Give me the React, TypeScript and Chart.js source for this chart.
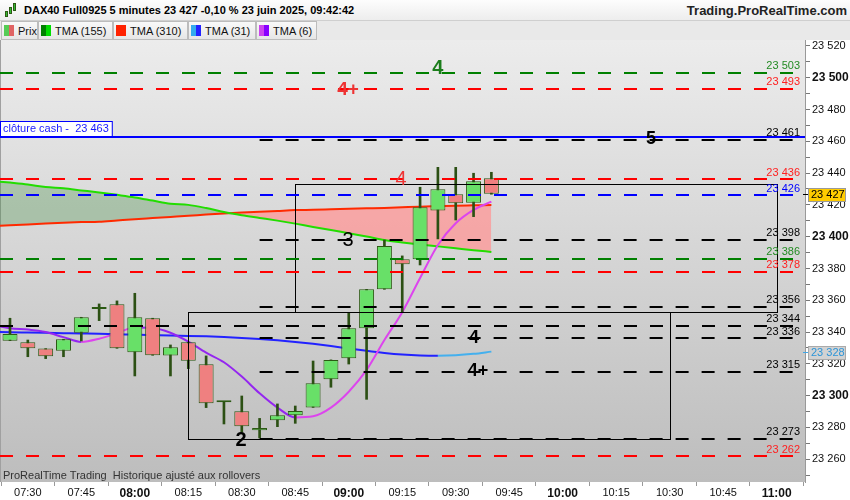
import React, { useEffect, useRef } from 'react';
import { Chart, registerables } from 'chart.js';
Chart.register(...registerables);

const FONT = 'Arial, "Liberation Sans", sans-serif';

// Candles: 5-minute bars, index 0 = 07:25
const startMinutes = 7 * 60 + 25;
const candleOpen = [23334.6, 23333.6, 23329.6, 23328.3, 23339.6, 23354.5, 23357.5, 23327.3, 23348.7, 23325.2, 23333.6, 23319.7, 23295.8, 23290.2, 23278.2, 23284.5, 23287.7, 23292.6, 23310.3, 23323.5, 23342.4, 23366.9, 23385.8, 23385.8, 23416.4, 23426.7, 23421.4, 23436.7];
const candleHigh = [23348.7, 23335.0, 23329.6, 23335.5, 23349.3, 23357.7, 23359.6, 23364.4, 23348.7, 23331.9, 23333.6, 23325.0, 23295.8, 23299.8, 23285.7, 23294.8, 23293.5, 23321.8, 23322.5, 23352.2, 23366.9, 23397.9, 23387.9, 23431.1, 23443.6, 23443.6, 23439.9, 23440.5];
const candleLow = [23334.6, 23324.5, 23323.3, 23324.5, 23334.4, 23347.2, 23329.8, 23312.4, 23325.4, 23312.4, 23317.0, 23292.5, 23282.2, 23277.0, 23273.4, 23280.5, 23282.6, 23292.6, 23305.3, 23319.9, 23297.7, 23366.9, 23352.3, 23382.2, 23398.6, 23410.5, 23412.6, 23426.7];
const candleClose = [23338.8, 23329.8, 23324.8, 23335.5, 23349.3, 23354.5, 23329.8, 23349.3, 23325.4, 23330.4, 23322.0, 23295.2, 23295.8, 23280.8, 23279.7, 23287.7, 23290.4, 23307.8, 23322.5, 23342.4, 23366.9, 23394.2, 23382.6, 23418.5, 23429.8, 23421.0, 23434.8, 23427.0];

// Moving averages (index -1 .. 27)
const maIndex = [-1, 0, 1, 2, 3, 4, 5, 6, 7, 8, 9, 10, 11, 12, 13, 14, 15, 16, 17, 18, 19, 20, 21, 22, 23, 24, 25, 26, 27];
const tma155 = [23435.1, 23434.0, 23432.8, 23431.2, 23430.4, 23429.1, 23427.8, 23426.3, 23424.7, 23422.7, 23420.7, 23420.0, 23418.0, 23415.5, 23413.5, 23411.8, 23410.1, 23408.2, 23406.1, 23404.2, 23402.1, 23400.1, 23397.9, 23396.4, 23395.1, 23393.9, 23392.7, 23391.5, 23390.4];
const tma310 = [23406.7, 23407.2, 23407.7, 23408.3, 23408.8, 23409.2, 23409.4, 23410.2, 23411.0, 23411.7, 23412.4, 23413.1, 23413.9, 23414.6, 23415.2, 23415.7, 23416.2, 23416.7, 23416.9, 23417.2, 23417.5, 23417.8, 23418.1, 23418.5, 23418.9, 23419.2, 23419.5, 23419.7, 23419.9];
const tma31 = [23340.2, 23339.9, 23339.7, 23339.5, 23339.3, 23339.1, 23338.9, 23338.6, 23338.4, 23338.1, 23337.8, 23337.6, 23337.3, 23336.9, 23336.3, 23335.6, 23334.8, 23333.8, 23332.6, 23331.2, 23329.7, 23328.2, 23326.9, 23325.9, 23325.3, 23325.1, 23325.4, 23326.3, 23327.7];
const tma6 = [23344.5, 23342.4, 23341.6, 23340.0, 23336.8, 23333.8, 23335.8, 23339.3, 23342.8, 23342.6, 23339.6, 23334.0, 23327.0, 23321.0, 23312.0, 23301.5, 23292.5, 23286.3, 23287.0, 23292.5, 23302.5, 23316.2, 23335.0, 23352.5, 23374.0, 23394.8, 23408.4, 23416.8, 23422.0];

// Axis ticks
const xTickIdx = [1, 4, 7, 10, 13, 16, 19, 22, 25, 28, 31, 34, 37, 40, 43];
const yTicks = [23250, 23260, 23270, 23280, 23290, 23300, 23310, 23320, 23330, 23340, 23350, 23360, 23370, 23380, 23390, 23400, 23410, 23420, 23430, 23440, 23450, 23460, 23470, 23480, 23490, 23500, 23510, 23520];

// Horizontal levels
const levelValues = [23503, 23493, 23463, 23461, 23436, 23426, 23398, 23386, 23378, 23356, 23344, 23336, 23315, 23273, 23262];
const levelColors = ['#008000', '#ff0000', '#0000ff', '#000000', '#ff0000', '#0000ff', '#000000', '#008000', '#ff0000', '#000000', '#000000', '#000000', '#000000', '#000000', '#ff0000'];
const levelLabelColors = ['#228b22', '#ff2020', '#0000ff', '#000000', '#ff2020', '#0000ff', '#000000', '#228b22', '#ff2020', '#000000', '#000000', '#000000', '#000000', '#000000', '#ff2020'];
const levelStartIdx = [null, null, null, 14, null, null, 14, null, null, 14, null, 14, 14, 14, null];
const levelDashed = [true, true, false, true, true, true, true, true, true, true, true, true, true, true, true];
const levelLabeled = [true, true, false, true, true, true, true, true, true, true, true, true, true, true, true];

// Rectangles (idx from, idx to, value low, value high)
const rectFrom = [16, 10];
const rectTo = [43, 37];
const rectLow = [23352.5, 23272.8];
const rectHigh = [23433.0, 23352.5];

// Notes
const noteText = ['4', '4+', '5', '4', '3', '4', '4+', '2'];
const noteIdx = [24.0, 18.96, 35.95, 21.93, 18.96, 26.02, 26.25, 12.96];
const noteValue = [23506.0, 23492.3, 23461.4, 23435.7, 23397.9, 23336.3, 23315.5, 23271.5];
const noteColor = ['#1b7d1b', '#ee3333', '#000', '#ee3333', '#000', '#000', '#000', '#000'];
const noteBold = [true, true, true, false, false, true, true, true];
const noteSize = [20, 19, 18, 20, 20, 18, 18, 20];

const cashValue = 23463;
const cashLabel = 'clôture cash -  23 463';
const footerText = 'ProRealTime Trading  Historique ajusté aux rollovers';

const legendLabels = ['Prix', 'TMA (155)', 'TMA (310)', 'TMA (31)', 'TMA (6)'];
const legendSwatchA = ['#55cc55', '#008000', '#ff2200', '#33aaee', '#cc44ee'];
const legendSwatchB = ['#e06464', '#00dd00', '#ff2200', '#2222ff', '#8800ff'];
const legendWidths = [37, 75, 75, 68, 61];

const fmt = (v: number) => {
  const r = Math.round(v);
  return `${Math.floor(r / 1000)} ${String(r % 1000).padStart(3, '0')}`;
};
const timeOf = (i: number) => {
  const m = startMinutes + i * 5;
  return `${String(Math.floor(m / 60)).padStart(2, '0')}:${String(m % 60).padStart(2, '0')}`;
};

export default function App() {
  const ref = useRef<HTMLCanvasElement>(null);

  useEffect(() => {
    document.body.style.margin = '0';
    const canvas = ref.current!;
    const idx = candleOpen.map((_, i) => i);
    const bodyData = idx.map((i) => ({ x: i, y: [candleOpen[i], candleClose[i]] }));
    const wickData = idx.map((i) => ({ x: i, y: [candleLow[i], candleHigh[i]] }));
    const bodyColors = idx.map((i) => (candleClose[i] >= candleOpen[i] ? '#68e068' : '#ef8080'));
    const series = (arr: number[]) => maIndex.map((x, k) => ({ x, y: arr[k] }));

    const decor = {
      id: 'decor',
      beforeDraw(chart: any) {
        const { ctx, chartArea: a, width, height } = chart;
        ctx.save();
        ctx.fillStyle = '#ffffff';
        ctx.fillRect(0, 0, width, height);
        const g = ctx.createLinearGradient(0, a.top, 0, a.bottom);
        g.addColorStop(0, '#ececec');
        g.addColorStop(1, '#bdbdbd');
        ctx.fillStyle = g;
        ctx.fillRect(a.left, a.top, a.right - a.left, a.bottom - a.top);
        ctx.fillStyle = '#a0a0a0';
        ctx.fillRect(a.left, a.top, 1, a.bottom - a.top);
        ctx.restore();
      },
      afterDatasetsDraw(chart: any) {
        const { ctx, chartArea: a, scales } = chart;
        const xs = scales.x, ys = scales.y;
        ctx.save();
        ctx.beginPath();
        ctx.rect(a.left, a.top, a.right - a.left, a.bottom - a.top);
        ctx.clip();

        // rectangles
        ctx.strokeStyle = '#000';
        ctx.lineWidth = 1;
        ctx.setLineDash([]);
        for (let r = 0; r < rectFrom.length; r++) {
          const x1 = Math.round(xs.getPixelForValue(rectFrom[r])) + 0.5;
          const x2 = Math.round(xs.getPixelForValue(rectTo[r])) + 0.5;
          const y1 = Math.round(ys.getPixelForValue(rectHigh[r])) + 0.5;
          const y2 = Math.round(ys.getPixelForValue(rectLow[r])) + 0.5;
          ctx.strokeRect(x1, y1, x2 - x1, y2 - y1);
        }

        // levels
        for (let k = 0; k < levelValues.length; k++) {
          const py = Math.round(ys.getPixelForValue(levelValues[k]));
          const sx = levelStartIdx[k] === null ? a.left : xs.getPixelForValue(levelStartIdx[k]);
          ctx.strokeStyle = levelColors[k];
          ctx.lineWidth = 2;
          ctx.setLineDash(levelDashed[k] ? [13, 13] : []);
          ctx.beginPath();
          ctx.moveTo(sx, py);
          ctx.lineTo(a.right, py);
          ctx.stroke();
        }
        ctx.setLineDash([]);

        // level labels
        ctx.font = `11px ${FONT}`;
        ctx.textAlign = 'right';
        ctx.textBaseline = 'bottom';
        for (let k = 0; k < levelValues.length; k++) {
          if (!levelLabeled[k]) continue;
          const py = ys.getPixelForValue(levelValues[k]);
          ctx.fillStyle = levelLabelColors[k];
          ctx.fillText(fmt(levelValues[k]), a.right - 5, py - 1);
        }

        // notes
        ctx.textAlign = 'center';
        ctx.textBaseline = 'middle';
        for (let k = 0; k < noteText.length; k++) {
          ctx.font = `${noteBold[k] ? 'bold ' : ''}${noteSize[k]}px ${FONT}`;
          ctx.fillStyle = noteColor[k];
          ctx.fillText(noteText[k], xs.getPixelForValue(noteIdx[k]), ys.getPixelForValue(noteValue[k]));
        }

        // cash box
        const cy = Math.round(ys.getPixelForValue(cashValue));
        ctx.font = `11px ${FONT}`;
        const tw = ctx.measureText(cashLabel).width;
        ctx.fillStyle = '#ffffff';
        ctx.fillRect(a.left, cy - 16, tw + 6, 15);
        ctx.strokeStyle = '#0000ff';
        ctx.lineWidth = 1;
        ctx.strokeRect(a.left + 0.5, cy - 15.5, tw + 6, 15);
        ctx.fillStyle = '#1a1aff';
        ctx.textAlign = 'left';
        ctx.textBaseline = 'middle';
        ctx.fillText(cashLabel, a.left + 3, cy - 8);

        // footer
        ctx.fillStyle = '#333';
        ctx.fillText(footerText, a.left + 3, a.bottom - 6);
        ctx.restore();
      },
      afterDraw(chart: any) {
        const { ctx, chartArea: a, scales } = chart;
        const ys = scales.y;
        const boxes = [
          { v: candleClose[candleClose.length - 1], fill: '#ffcc00', stroke: '#999', text: '#000', tick: '#000' },
          { v: tma31[tma31.length - 1], fill: '#d2d2d2', stroke: '#aaa', text: '#2d95d8', tick: '#40a8e8' },
        ];
        ctx.save();
        ctx.font = `11px ${FONT}`;
        for (const b of boxes) {
          const py = Math.round(ys.getPixelForValue(b.v));
          ctx.fillStyle = b.tick;
          ctx.fillRect(a.right - 2, py, 5, 1);
          ctx.fillStyle = b.fill;
          ctx.fillRect(a.right + 3, py - 6, 37, 13);
          ctx.strokeStyle = b.stroke;
          ctx.lineWidth = 1;
          ctx.strokeRect(a.right + 3.5, py - 5.5, 37, 13);
          ctx.fillStyle = b.text;
          ctx.textAlign = 'left';
          ctx.textBaseline = 'middle';
          ctx.fillText(fmt(b.v), a.right + 6, py + 1);
        }
        ctx.restore();
      },
    };

    const chart = new Chart(canvas, {
      type: 'line',
      data: {
        datasets: [
          {
            type: 'bar', data: bodyData as any, backgroundColor: bodyColors, borderColor: '#2c5a14', borderWidth: 1,
            borderSkipped: false, barPercentage: 0.84, categoryPercentage: 1, minBarLength: 2, grouped: false, order: 0,
          } as any,
          {
            type: 'bar', data: wickData as any, backgroundColor: '#2c5014', borderWidth: 0, barThickness: 2, grouped: false, order: 1,
          } as any,
          {
            data: series(tma155), borderColor: '#22dd00', borderWidth: 2, pointRadius: 0, cubicInterpolationMode: 'monotone', order: 4,
            fill: { target: 3, above: 'rgba(60,140,60,0.31)', below: 'rgba(255,150,150,0.75)' },
          } as any,
          { data: series(tma310), borderColor: '#ff2a00', borderWidth: 2, pointRadius: 0, cubicInterpolationMode: 'monotone', order: 5 } as any,
          {
            data: series(tma31), borderColor: '#2020ff', borderWidth: 2, pointRadius: 0, cubicInterpolationMode: 'monotone', order: 3,
            segment: { borderColor: (c: any) => (c.p1.parsed.y > c.p0.parsed.y ? '#44b0ee' : '#2222ff') },
          } as any,
          {
            data: series(tma6), borderColor: '#9426f0', borderWidth: 2, pointRadius: 0, cubicInterpolationMode: 'monotone', order: 2,
            segment: { borderColor: (c: any) => (c.p1.parsed.y > c.p0.parsed.y ? '#dd44ee' : '#9426f0') },
          } as any,
        ],
      },
      options: {
        responsive: false,
        animation: false,
        devicePixelRatio: 1,
        layout: { padding: 0 },
        plugins: { legend: { display: false }, tooltip: { enabled: false }, filler: { drawTime: 'beforeDatasetsDraw' } } as any,
        scales: {
          x: {
            type: 'linear', min: -0.561, max: 44.59, offset: false,
            afterBuildTicks: (s: any) => { s.ticks = xTickIdx.map((v) => ({ value: v })); },
            afterFit: (s: any) => { s.height = 18; s.paddingLeft = 0; s.paddingRight = 0; },
            grid: { drawOnChartArea: false, tickLength: 4, color: '#999' },
            border: { display: false },
            ticks: {
              autoSkip: false, maxRotation: 0, padding: 0, color: '#111',
              callback: (v: any) => timeOf(Number(v)),
              font: (c: any) => {
                const m = startMinutes + (c.tick ? c.tick.value : 0) * 5;
                return m % 60 === 0 ? { family: FONT, size: 12, weight: 'bold' } : { family: FONT, size: 11 };
              },
            },
          } as any,
          y: {
            type: 'linear', position: 'right', min: 23245.7, max: 23523.7,
            afterBuildTicks: (s: any) => { s.ticks = yTicks.map((v) => ({ value: v })); },
            afterFit: (s: any) => { s.width = 45; s.paddingTop = 0; s.paddingBottom = 0; },
            grid: { drawOnChartArea: false, tickLength: 5, color: '#777' },
            border: { display: true, color: '#999' },
            ticks: {
              autoSkip: false, padding: 2, color: '#111',
              callback: (v: any) => (Number(v) % 20 === 0 ? fmt(Number(v)) : ''),
              font: (c: any) => (c.tick && c.tick.value % 100 === 0 ? { family: FONT, size: 12, weight: 'bold' } : { family: FONT, size: 11 }),
            },
          } as any,
        },
      },
      plugins: [decor],
    });
    return () => chart.destroy();
  }, []);

  return (
    <div style={{ position: 'relative', width: 850, height: 500, overflow: 'hidden', fontFamily: FONT, background: '#fff' }}>
      <div style={{ position: 'absolute', left: 0, top: 0, width: 850, height: 20, background: 'linear-gradient(#fdfdfd,#ededed)', borderBottom: '1px solid #cfcfcf' }}>
        <div style={{ position: 'absolute', left: 5, top: 11, width: 3, height: 6, background: '#33bb33', border: '1px solid #2c5a14', boxSizing: 'border-box' }} />
        <div style={{ position: 'absolute', left: 9, top: 7, width: 3, height: 7, background: '#33bb33', border: '1px solid #2c5a14', boxSizing: 'border-box' }} />
        <div style={{ position: 'absolute', left: 13, top: 3, width: 3, height: 8, background: '#33bb33', border: '1px solid #2c5a14', boxSizing: 'border-box' }} />
        <span style={{ position: 'absolute', left: 24, top: 4, fontSize: 11, fontWeight: 'bold', color: '#000', whiteSpace: 'nowrap' }}>
          DAX40 Full0925 5 minutes 23 427 -0,10 % 23 juin 2025, 09:42:42
        </span>
        <span style={{ position: 'absolute', right: 3, top: 3, fontSize: 13, fontWeight: 'bold', color: '#222', whiteSpace: 'nowrap' }}>
          Trading.ProRealTime.com
        </span>
      </div>
      <div style={{ position: 'absolute', left: 0, top: 21, width: 850, height: 19, background: '#e9e9e9', display: 'flex' }}>
        <div style={{ width: 1 }} />
        {legendLabels.map((l, k) => (
          <div key={l} style={{ width: legendWidths[k], height: 19, boxSizing: 'border-box', border: '1px solid #bcbcbc', background: 'linear-gradient(#f9f9f9,#e6e6e6)', display: 'flex', alignItems: 'center', paddingLeft: 2, fontSize: 11, color: '#111', whiteSpace: 'nowrap' }}>
            <div style={{ width: 5, height: 11, background: legendSwatchA[k] }} />
            <div style={{ width: 5, height: 11, background: legendSwatchB[k], marginRight: 4 }} />
            <span>{l}</span>
          </div>
        ))}
      </div>
      <canvas ref={ref} width={850} height={460} style={{ position: 'absolute', left: 0, top: 40, width: 850, height: 460 }} />
    </div>
  );
}
